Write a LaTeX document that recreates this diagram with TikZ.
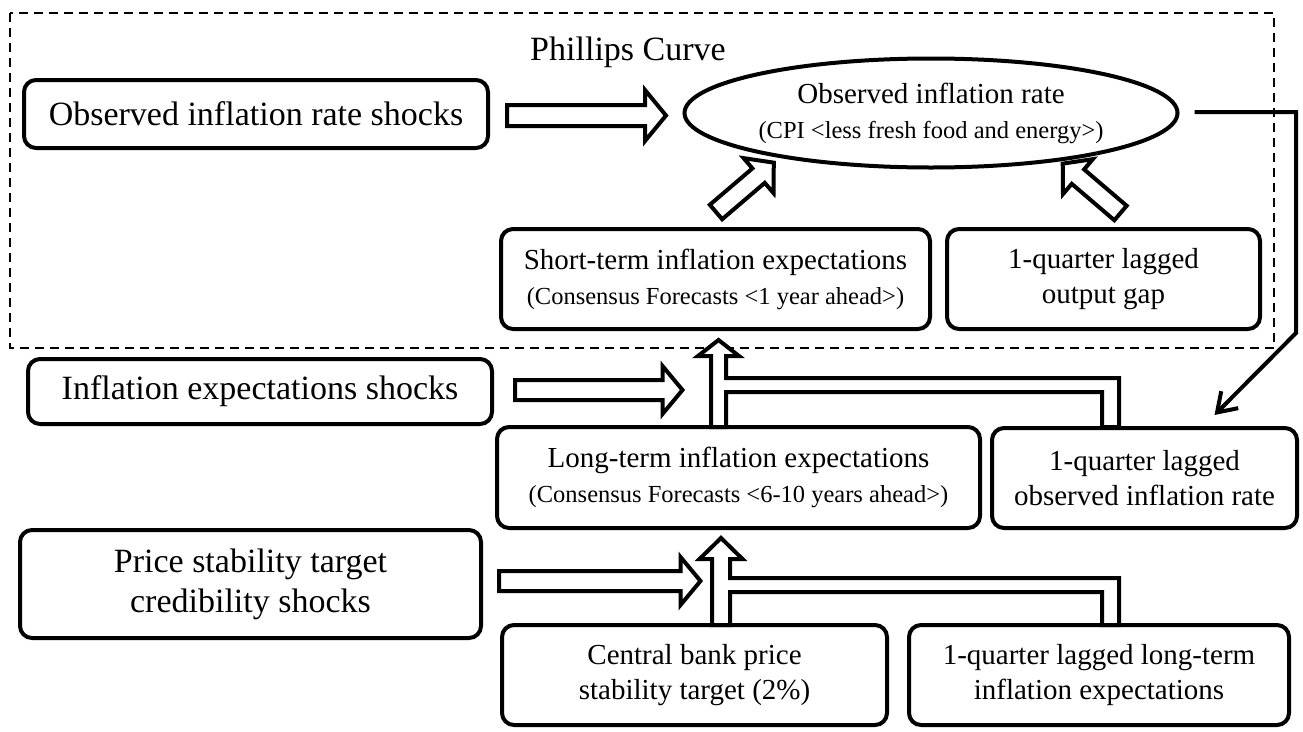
\documentclass[tikz,border=0pt]{standalone}
\usepackage{fontspec}
\setmainfont{Liberation Serif}
\usetikzlibrary{calc,arrows.meta,shapes.geometric}
\newcommand\fL{\fontsize{34}{40}\selectfont}
\newcommand\fM{\fontsize{29}{35}\selectfont}
\newcommand\fS{\fontsize{24.5}{35}\selectfont}
\tikzset{
  box/.style={draw, line width=4pt, rounded corners=12pt, inner sep=0pt, align=center, fill=white},
  ellbox/.style={draw, ellipse, line width=4pt, inner sep=0pt, align=center, fill=white},
  barrow/.style={draw, line width=4pt, fill=white, line join=miter, miter limit=10},
  fb/.style={line width=4pt, line join=miter, -{Straight Barb[length=18pt,width=24pt]}},
  frame/.style={draw, line width=2pt, dash pattern=on 9pt off 6pt}
}
% #1 start, #2 angle, #3 length, #4 shaft half, #5 head half, #6 head length
\newcommand\blockarrow[6]{%
  \begin{scope}[shift={(#1)},rotate=#2]
    \draw[barrow] (0,-#4) -- ({#3-#6},-#4) -- ({#3-#6},-#5) -- (#3,0) -- ({#3-#6},#5) -- ({#3-#6},#4) -- (0,#4) -- cycle;
  \end{scope}}
\begin{document}
\begin{tikzpicture}[x=1pt,y=-1pt]
\useasboundingbox (0,0) rectangle (1303,731);
\fill[white] (0,0) rectangle (1303,731);
\draw[frame] (10,13) rectangle (1274,348);
\node[anchor=base, font=\fL, inner sep=0pt] (pclabel) at (628,60) {Phillips Curve};

\node[box, font=\fL, minimum width=464pt, minimum height=68pt] (box1) at (256,114) {Observed inflation rate shocks};
\node[ellbox, font=\fM, minimum width=493pt, minimum height=109pt] (ell) at (931,113) {Observed inflation rate\\{\fS (CPI <less fresh food and energy>)}};
\node[box, font=\fM, minimum width=429pt, minimum height=100pt] (st) at (715.5,279) {Short-term inflation expectations\\{\fS (Consensus Forecasts <1 year ahead>)}};
\node[box, font=\fM, minimum width=313pt, minimum height=100pt] (og) at (1103.5,279) {1-quarter lagged\\output gap};
\node[box, font=\fL, minimum width=464pt, minimum height=65pt] (ies) at (260,391.5) {Inflation expectations shocks};
\node[box, font=\fM, minimum width=483pt, minimum height=101pt] (lt) at (738.5,477.5) {Long-term inflation expectations\\{\fS (Consensus Forecasts <6-10 years ahead>)}};
\node[box, font=\fM, minimum width=305pt, minimum height=100pt] (lo) at (1144.5,478) {1-quarter lagged\\observed inflation rate};
\node[box, font=\fL, minimum width=461pt, minimum height=108pt] (ps) at (250.5,584) {Price stability target\\credibility shocks};
\node[box, font=\fM, minimum width=385pt, minimum height=100pt] (cb) at (694.5,675) {Central bank price\\stability target (2\%)};
\node[box, font=\fM, minimum width=380pt, minimum height=100pt] (ll) at (1099,675) {1-quarter lagged long-term\\inflation expectations};

% hollow block arrows
\coordinate (a1s) at ($(box1.east)+(17,1.5)$);
\blockarrow{a1s}{0}{159}{10.5}{25.5}{21}
\coordinate (a4s) at ($(ies.east)+(21,-1.5)$);
\blockarrow{a4s}{0}{167.5}{10}{24}{20}
\coordinate (a5s) at ($(ps.east)+(16,-3)$);
\blockarrow{a5s}{0}{201.5}{10}{24}{20}
\coordinate (a2s) at ($(st.north)+(0.5,-15)$);
\blockarrow{a2s}{40.5}{76}{9.5}{23}{20}
\coordinate (a3s) at ($(og.north)+(17,-14)$);
\blockarrow{a3s}{139.5}{76}{9.5}{23}{20}

% upper T-shaped arrow
\coordinate (tup) at ($(lt.north)+(-20,2)$);
\begin{scope}[shift={(tup)}]
\draw[barrow] (-7.5,0) -- (-7.5,-71) -- (-20.5,-71) -- (0,-87) -- (20.5,-71) -- (7.5,-71) -- (7.5,-49) -- (400.5,-49) -- (400.5,0) -- (383.5,0) -- (383.5,-35) -- (7.5,-35) -- (7.5,0) -- cycle;
\end{scope}

% lower T-shaped arrow
\coordinate (tlo) at ($(cb.north)+(26.5,2)$);
\begin{scope}[shift={(tlo)}]
\draw[barrow] (-9,0) -- (-9,-66) -- (-21.5,-66) -- (0,-87) -- (21.5,-66) -- (9,-66) -- (9,-47) -- (398,-47) -- (398,0) -- (381,0) -- (381,-33) -- (9,-33) -- (9,0) -- cycle;
\end{scope}

% feedback connector
\coordinate (fb0) at ($(ell.east)+(15,-1)$);
\coordinate (fb1) at (1296,112);
\coordinate (fb2) at (1296,333);
\coordinate (fb3) at ($(lo.north)+(70,-11)$);
\draw[fb] (fb0) -- (fb1) -- (fb2) -- (fb3);
\end{tikzpicture}
\end{document}
